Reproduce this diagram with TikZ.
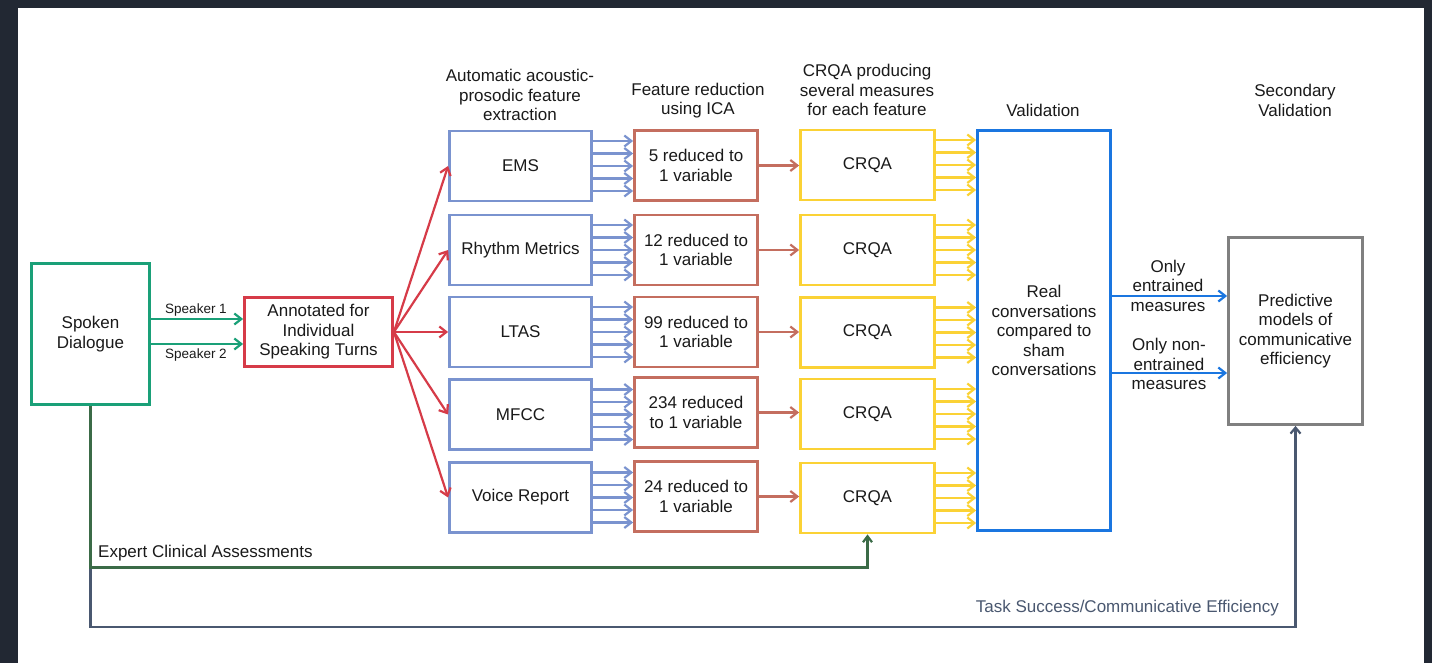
\documentclass[tikz,border=0pt]{standalone}
\usepackage{fontspec}
\setmainfont{Liberation Sans}
\usetikzlibrary{arrows.meta,calc}
\definecolor{frame}{HTML}{222833}
\definecolor{sdgreen}{HTML}{1AA078}
\definecolor{annred}{HTML}{D63B48}
\definecolor{featblue}{HTML}{7A93CF}
\definecolor{icabrown}{HTML}{C46E5F}
\definecolor{crqayel}{HTML}{FBD235}
\definecolor{valblue}{HTML}{1A76E0}
\definecolor{predgray}{HTML}{808080}
\definecolor{expgreen}{HTML}{3B6B47}
\definecolor{slate}{HTML}{4A5870}
\definecolor{txt}{HTML}{1A1A1A}
\begin{document}
\begin{tikzpicture}[x=1pt,y=-1pt,
  every node/.style={text=txt,font=\fontsize{17}{19.5}\selectfont},
  boxbase/.style={draw,line width=2.8pt,fill=white,inner sep=0pt,align=center},
  sdbox/.style={boxbase,draw=sdgreen,minimum width=118pt,minimum height=141pt},
  annbox/.style={boxbase,draw=annred,minimum width=148pt,minimum height=69pt},
  featbox/.style={boxbase,draw=featblue,minimum width=142pt,minimum height=70pt},
  icabox/.style={boxbase,draw=icabrown,minimum width=123pt,minimum height=70pt},
  crqabox/.style={boxbase,draw=crqayel,minimum width=134pt,minimum height=70pt},
  valbox/.style={boxbase,draw=valblue,minimum width=133pt,minimum height=400pt},
  predbox/.style={boxbase,draw=predgray,minimum width=134pt,minimum height=187pt},
  head/.style={align=center,inner sep=0pt},
  tip/.style={-{Straight Barb[length=7pt,width=11pt]}},
  garr/.style={tip,draw=sdgreen,line width=2.2pt},
  rarr/.style={tip,draw=annred,line width=2.2pt},
  barr/.style={tip,draw=featblue,line width=2.2pt},
  brarr/.style={tip,draw=icabrown,line width=2.2pt},
  yarr/.style={tip,draw=crqayel,line width=2.2pt},
  varr/.style={tip,draw=valblue,line width=2.2pt},
  earr/.style={-{Straight Barb[length=6pt,width=9pt]},draw=expgreen,line width=2.2pt},
  sarr/.style={-{Straight Barb[length=6pt,width=10pt]},draw=slate,line width=2.2pt},
  small/.style={font=\fontsize{13.5}{15}\selectfont,inner sep=0pt}
]
\useasboundingbox (0,0) rectangle (1432,663);
\fill[frame] (0,0) rectangle (1432,663);
\fill[white] (18,8) rectangle (1424,663);

% headers
\node[head] (h1) at (520,95) {Automatic acoustic-\\prosodic feature\\extraction};
\node[head] (h2) at (698,100.5) {Feature reduction\\using ICA};
\node[head] (h3) at (867,90) {CRQA producing\\several measures\\for each feature};
\node[head] (h4) at (1043,110) {Validation};
\node[head] (h5) at (1295,100.5) {Secondary\\Validation};

% main boxes
\node[sdbox] (sd) at (90.5,334) {Spoken\\Dialogue};
\node[annbox] (ann) at (318.5,332) {Annotated for\\Individual\\Speaking Turns};

\node[featbox] (f1) at (520.5,166) {EMS};
\node[featbox] (f2) at (520.5,250) {Rhythm Metrics};
\node[featbox] (f3) at (520.5,332) {LTAS};
\node[featbox] (f4) at (520.5,414.5) {MFCC};
\node[featbox] (f5) at (520.5,497.5) {Voice Report};

\node[icabox] (i1) at (696,165.5) {5 reduced to\\1 variable};
\node[icabox] (i2) at (696,250) {12 reduced to\\1 variable};
\node[icabox] (i3) at (696,332) {99 reduced to\\1 variable};
\node[icabox] (i4) at (696,412.5) {234 reduced\\to 1 variable};
\node[icabox] (i5) at (696,496.5) {24 reduced to\\1 variable};

\node[crqabox] (c1) at (867.5,165) {CRQA};
\node[crqabox] (c2) at (867.5,250) {CRQA};
\node[crqabox] (c3) at (867.5,332.5) {CRQA};
\node[crqabox] (c4) at (867.5,414) {CRQA};
\node[crqabox] (c5) at (867.5,498) {CRQA};

\node[valbox] (val) at (1044,330.5) {Real\\conversations\\compared to\\sham\\conversations};
\node[predbox] (pred) at (1295.5,331) {Predictive\\models of\\communicative\\efficiency};

% speaker arrows
\draw[garr] ([yshift=15pt]sd.east) -- ([yshift=13pt]ann.west);
\draw[garr] ([yshift=-10pt]sd.east) -- ([yshift=-12pt]ann.west);
\node[small] (s1) at (196,310) {Speaker 1};
\node[small] (s2) at (196,355) {Speaker 2};

% red fan
\foreach \f in {f1,f2,f3,f4,f5}
  \draw[rarr] (ann.east) -- (\f.west);

% blue multi arrows, brown arrows, yellow multi arrows
\foreach \n in {1,...,5}{
  \foreach \d in {25,12.5,0,-12.5,-25}
    \draw[barr] ([yshift=\d pt]f\n.east) -- ([yshift=\d pt]f\n.east -| i\n.west);
  \draw[brarr] (i\n.east) -- (i\n.east -| c\n.west);
  \foreach \d in {25,12.5,0,-12.5,-25}
    \draw[yarr] ([yshift=\d pt]c\n.east) -- ([yshift=\d pt]c\n.east -| val.west);
}

% outputs of validation
\draw[varr] ([yshift=34.5pt]val.east) -- ([yshift=35pt]pred.west);
\draw[varr] ([yshift=-42.5pt]val.east) -- ([yshift=-42pt]pred.west);
\node[head] (o1) at (1168,285.5) {Only\\entrained\\measures};
\node[head] (o2) at (1169,364) {Only non-\\entrained\\measures};

% bottom connectors
\draw[sarr] (sd.south) -- ++(0,221) -| (pred.south);
\draw[earr] (sd.south) -- ++(0,161.5) -| (c5.south);
\node[anchor=west,inner sep=0pt] (ea) at (98,553) {Expert Clinical Assessments};
\node[anchor=east,inner sep=0pt,text=slate] (ts) at (1279,608.5) {Task Success/Communicative Efficiency};
\end{tikzpicture}
\end{document}
